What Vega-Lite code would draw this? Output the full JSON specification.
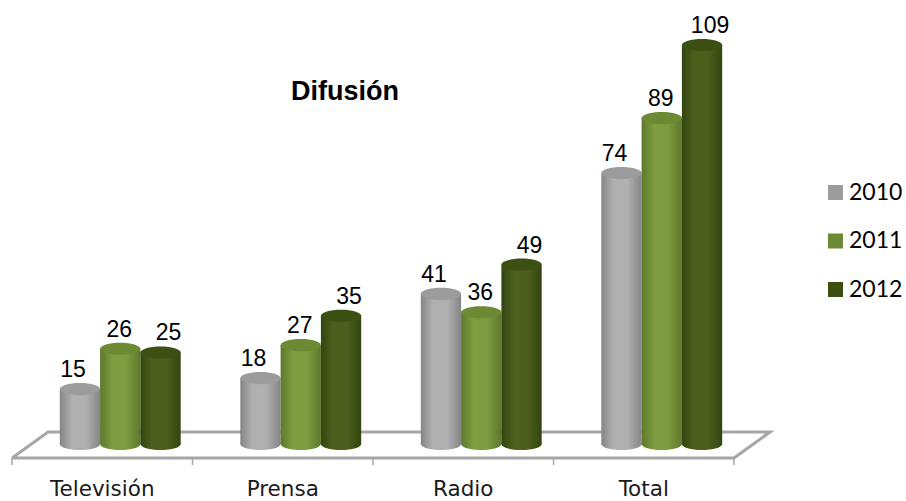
{
"$schema":"https://vega.github.io/schema/vega-lite/v6.json",
"width":722,"height":458,
"autosize":{"type":"none"},
"padding":{"left":12,"top":0,"right":172,"bottom":43},
"background":"white",
"config":{"view":{"stroke":null}},
"title":{"text":"Difusión","font":"Liberation Sans","fontSize":27,"fontWeight":"bold","color":"#000000","anchor":"start","frame":"group","dx":279,"offset":-127,"baseline":"alphabetic"},
"datasets":{
"bars":[
{"categoria":"Televisión","anio":"2010","valor":15},{"categoria":"Televisión","anio":"2011","valor":26},{"categoria":"Televisión","anio":"2012","valor":25},
{"categoria":"Prensa","anio":"2010","valor":18},{"categoria":"Prensa","anio":"2011","valor":27},{"categoria":"Prensa","anio":"2012","valor":35},
{"categoria":"Radio","anio":"2010","valor":41},{"categoria":"Radio","anio":"2011","valor":36},{"categoria":"Radio","anio":"2012","valor":49},
{"categoria":"Total","anio":"2010","valor":74},{"categoria":"Total","anio":"2011","valor":89},{"categoria":"Total","anio":"2012","valor":109}],
"suelo":[{"u":0,"p":0,"o":0},{"u":4,"p":0,"o":1},{"u":4.2,"p":1,"o":2},{"u":0.2,"p":1,"o":3},{"u":0,"p":0,"o":4}],
"marcas":[{"u":0,"p":0,"p2":-0.27},{"u":1,"p":0,"p2":-0.27},{"u":2,"p":0,"p2":-0.27},{"u":3,"p":0,"p2":-0.27},{"u":4,"p":0,"p2":-0.27}]
},
"resolve":{"scale":{"x":"independent","y":"independent"}},
"layer":[
{"data":{"name":"suelo"},"mark":{"type":"line","color":"#a6a6a6","strokeWidth":3,"clip":false,"strokeJoin":"miter"},
 "encoding":{"x":{"field":"u","type":"quantitative","scale":{"domain":[0,4]},"axis":null},
 "y":{"field":"p","type":"quantitative","scale":{"domain":[0,17.6]},"axis":null},"order":{"field":"o"}}},
{"data":{"name":"marcas"},"mark":{"type":"rule","color":"#a6a6a6","strokeWidth":1.5},
 "encoding":{"x":{"field":"u","type":"quantitative","scale":{"domain":[0,4]},"axis":null},
 "y":{"field":"p","type":"quantitative","scale":{"domain":[0,17.6]},"axis":null},"y2":{"field":"p2"}}},
{"data":{"name":"bars"},"mark":{"type":"rule","opacity":0},
 "encoding":{"x":{"field":"categoria","type":"nominal","sort":null,"scale":{"paddingInner":0,"paddingOuter":0},
   "axis":{"title":null,"domain":false,"ticks":false,"labelAngle":0,"labelFont":"DejaVu Sans","labelFontSize":21.5,"labelColor":"#1a1a1a","labelPadding":37,"labelBaseline":"alphabetic"}}}},
{"data":{"name":"bars"},
 "encoding":{
  "x":{"field":"categoria","type":"nominal","sort":null,"scale":{"range":[18,740],"paddingInner":0,"paddingOuter":0},"axis":null},
  "xOffset":{"field":"anio","type":"nominal","scale":{"domain":["2010","2011","2012"],"paddingInner":0,"paddingOuter":0.74}},
  "y":{"field":"valor","type":"quantitative","scale":{"domain":[0,125.1]},"axis":null}
 },
 "layer":[
 {"transform":[{"filter":"datum.anio=='2010'"}],"mark":{"type":"point","filled":true,"opacity":1,"strokeWidth":0,"yOffset":-14,"size":1624,"shape":"M -1 0 A 1 0.3 0 1 0 1 0 A 1 0.3 0 1 0 -1 0 Z","fill":{"gradient":"linear","x1":0,"x2":1,"y1":0,"y2":0,"stops":[{"offset":0,"color":"#858585"},{"offset":0.3,"color":"#b0b0b0"},{"offset":0.65,"color":"#b0b0b0"},{"offset":1,"color":"#858585"}]}},"encoding":{"y":{"datum":0,"type":"quantitative"}}},
 {"transform":[{"filter":"datum.anio=='2010'"}],"mark":{"type":"bar","yOffset":-14,"y2Offset":-14,"fill":{"gradient":"linear","x1":0,"x2":1,"y1":0,"y2":0,"stops":[{"offset":0,"color":"#858585"},{"offset":0.3,"color":"#b0b0b0"},{"offset":0.65,"color":"#b0b0b0"},{"offset":1,"color":"#858585"}]}},"encoding":{"y2":{"datum":0}}},
 {"transform":[{"filter":"datum.anio=='2011'"}],"mark":{"type":"point","filled":true,"opacity":1,"strokeWidth":0,"yOffset":-14,"size":1624,"shape":"M -1 0 A 1 0.3 0 1 0 1 0 A 1 0.3 0 1 0 -1 0 Z","fill":{"gradient":"linear","x1":0,"x2":1,"y1":0,"y2":0,"stops":[{"offset":0,"color":"#5d782c"},{"offset":0.3,"color":"#7e9c40"},{"offset":0.65,"color":"#7e9c40"},{"offset":1,"color":"#5d782c"}]}},"encoding":{"y":{"datum":0,"type":"quantitative"}}},
 {"transform":[{"filter":"datum.anio=='2011'"}],"mark":{"type":"bar","yOffset":-14,"y2Offset":-14,"fill":{"gradient":"linear","x1":0,"x2":1,"y1":0,"y2":0,"stops":[{"offset":0,"color":"#5d782c"},{"offset":0.3,"color":"#7e9c40"},{"offset":0.65,"color":"#7e9c40"},{"offset":1,"color":"#5d782c"}]}},"encoding":{"y2":{"datum":0}}},
 {"transform":[{"filter":"datum.anio=='2012'"}],"mark":{"type":"point","filled":true,"opacity":1,"strokeWidth":0,"yOffset":-14,"size":1624,"shape":"M -1 0 A 1 0.3 0 1 0 1 0 A 1 0.3 0 1 0 -1 0 Z","fill":{"gradient":"linear","x1":0,"x2":1,"y1":0,"y2":0,"stops":[{"offset":0,"color":"#334510"},{"offset":0.3,"color":"#4c5f1c"},{"offset":0.65,"color":"#4c5f1c"},{"offset":1,"color":"#334510"}]}},"encoding":{"y":{"datum":0,"type":"quantitative"}}},
 {"transform":[{"filter":"datum.anio=='2012'"}],"mark":{"type":"bar","yOffset":-14,"y2Offset":-14,"fill":{"gradient":"linear","x1":0,"x2":1,"y1":0,"y2":0,"stops":[{"offset":0,"color":"#334510"},{"offset":0.3,"color":"#4c5f1c"},{"offset":0.65,"color":"#4c5f1c"},{"offset":1,"color":"#334510"}]}},"encoding":{"y2":{"datum":0}}},
 {"mark":{"type":"point","filled":true,"opacity":1,"strokeWidth":0,"yOffset":-14,"size":1624,"shape":"M -1 0 A 1 0.3 0 1 0 1 0 A 1 0.3 0 1 0 -1 0 Z"},
  "encoding":{"fill":{"field":"anio","type":"nominal","scale":{"domain":["2010","2011","2012"],"range":["#9c9c9c","#6c8a33","#3c5013"]},
   "legend":{"title":null,"orient":"none","legendX":812,"legendY":181,"symbolType":"square","symbolSize":225,"symbolStrokeWidth":0,"labelFont":"Lato","labelFontSize":23,"labelColor":"#000000","rowPadding":24.5,"labelOffset":2,"padding":0,
   "encode":{"symbols":{"update":{"fill":{"signal":"datum.value=='2010'?'#a9a9a9':datum.value=='2011'?'#7a983f':'#4a5c1c'"},"opacity":{"value":1}}}}}}}}
 ]},
{"data":{"name":"bars"},"transform":[{"filter":"datum.anio=='2010'"}],"mark":{"type":"text","font":"Liberation Sans","fontSize":23,"color":"#000000","baseline":"alphabetic","yOffset":-26},
 "encoding":{"x":{"field":"categoria","type":"nominal","sort":null,"scale":{"range":[11,733],"paddingInner":0,"paddingOuter":0},"axis":null},
  "xOffset":{"field":"anio","type":"nominal","scale":{"domain":["2010","2011","2012"],"paddingInner":0,"paddingOuter":0.74}},
  "y":{"field":"valor","type":"quantitative","scale":{"domain":[0,125.1]},"axis":null},"text":{"field":"valor","type":"quantitative"}}},
{"data":{"name":"bars"},"transform":[{"filter":"datum.anio=='2011'"}],"mark":{"type":"text","font":"Liberation Sans","fontSize":23,"color":"#000000","baseline":"alphabetic","yOffset":-26},
 "encoding":{"x":{"field":"categoria","type":"nominal","sort":null,"scale":{"range":[17,739],"paddingInner":0,"paddingOuter":0},"axis":null},
  "xOffset":{"field":"anio","type":"nominal","scale":{"domain":["2010","2011","2012"],"paddingInner":0,"paddingOuter":0.74}},
  "y":{"field":"valor","type":"quantitative","scale":{"domain":[0,125.1]},"axis":null},"text":{"field":"valor","type":"quantitative"}}},
{"data":{"name":"bars"},"transform":[{"filter":"datum.anio=='2012'"}],"mark":{"type":"text","font":"Liberation Sans","fontSize":23,"color":"#000000","baseline":"alphabetic","yOffset":-26},
 "encoding":{"x":{"field":"categoria","type":"nominal","sort":null,"scale":{"range":[26,748],"paddingInner":0,"paddingOuter":0},"axis":null},
  "xOffset":{"field":"anio","type":"nominal","scale":{"domain":["2010","2011","2012"],"paddingInner":0,"paddingOuter":0.74}},
  "y":{"field":"valor","type":"quantitative","scale":{"domain":[0,125.1]},"axis":null},"text":{"field":"valor","type":"quantitative"}}}
]
}
